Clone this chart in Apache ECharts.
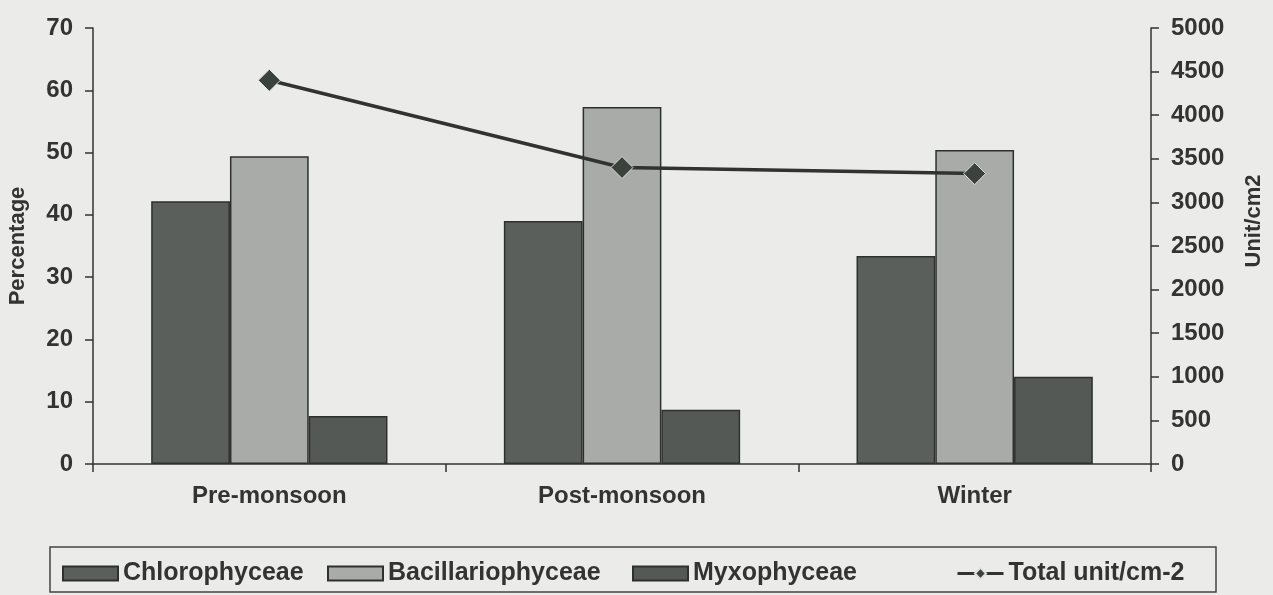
<!DOCTYPE html>
<html>
<head>
<meta charset="utf-8">
<script src="https://cdn.jsdelivr.net/npm/echarts@6/dist/echarts.min.js"></script>
<style>
  html, body { margin: 0; padding: 0; background: #ebebea; }
  #chart { width: 1273px; height: 595px; }
</style>
</head>
<body>
<div id="chart"></div>
<script>
var seasons = ['Pre-monsoon', 'Post-monsoon', 'Winter'];
var chlorophyceae = [42.2, 39.0, 33.4];
var bacillariophyceae = [49.4, 57.3, 50.4];
var myxophyceae = [7.7, 8.7, 14.0];
var totalUnits = [4400, 3400, 3330];

var chartDom = document.getElementById('chart');
var myChart = echarts.init(chartDom);

var axisText = { color: '#333', fontFamily: 'Liberation Sans', fontWeight: 'bold', fontSize: 24 };
var legendText = { color: '#333', fontWeight: 'bold', fontSize: 25 };

function legendAt(name, left, w) {
    var lg = {
        data: [name],
        left: left, top: 556,
        itemWidth: w, itemHeight: 14,
        textStyle: legendText
    };
    if (name === 'Total unit/cm-2') {
        lg.lineStyle = { width: 3 };
    } else {
        lg.icon = 'rect';
    }
    return lg;
}

var option = {
    backgroundColor: '#ebebea',
    textStyle: { fontFamily: 'Liberation Sans' },
    grid: { left: 93, right: 122, top: 28, bottom: 131, containLabel: false, outerBoundsMode: 'none' },
    legend: [
        legendAt('Chlorophyceae', 57, 55),
        legendAt('Bacillariophyceae', 322, 55),
        legendAt('Myxophyceae', 627, 55),
        legendAt('Total unit/cm-2', 951, 46)
    ],
    graphic: [
        {
            type: 'rect',
            shape: { x: 50, y: 547, width: 1166, height: 45 },
            style: { fill: 'none', stroke: '#444', lineWidth: 1.5 },
            z: 0
        }
    ],
    xAxis: {
        type: 'category',
        data: seasons,
        axisLine: { lineStyle: { color: '#333', width: 1.5 } },
        axisTick: { show: true, length: 8, lineStyle: { color: '#333', width: 1.5 } },
        axisLabel: Object.assign({}, axisText, { margin: 20 })
    },
    yAxis: [
        {
            type: 'value',
            min: 0, max: 70, interval: 10,
            name: 'Percentage',
            nameLocation: 'middle',
            nameGap: 64,
            nameTextStyle: { color: '#333', fontWeight: 'bold', fontSize: 22 },
            axisLine: { show: true, lineStyle: { color: '#333', width: 1.5 } },
            axisTick: { show: true, length: 8, lineStyle: { color: '#333', width: 1.5 } },
            axisLabel: Object.assign({}, axisText, { margin: 20 }),
            splitLine: { show: false }
        },
        {
            type: 'value',
            min: 0, max: 5000, interval: 500,
            name: 'Unit/cm2',
            nameLocation: 'middle',
            nameGap: 92,
            nameTextStyle: { color: '#333', fontWeight: 'bold', fontSize: 22, padding: [0, 0, 0, 50] },
            axisLine: { show: true, lineStyle: { color: '#333', width: 1.5 } },
            axisTick: { show: true, length: 8, lineStyle: { color: '#333', width: 1.5 } },
            axisLabel: Object.assign({}, axisText, {
                margin: 20,
                formatter: function (v) { return String(v); }
            }),
            splitLine: { show: false }
        }
    ],
    series: [
        {
            name: 'Chlorophyceae',
            type: 'bar',
            data: chlorophyceae,
            barGap: '0%',
            barCategoryGap: '33%',
            itemStyle: { color: '#5b5f5b', borderColor: '#2e302e', borderWidth: 1.5 }
        },
        {
            name: 'Bacillariophyceae',
            type: 'bar',
            data: bacillariophyceae,
            itemStyle: { color: '#a9aba8', borderColor: '#2e302e', borderWidth: 1.5 }
        },
        {
            name: 'Myxophyceae',
            type: 'bar',
            data: myxophyceae,
            itemStyle: { color: '#555955', borderColor: '#2e302e', borderWidth: 1.5 }
        },
        {
            name: 'Total unit/cm-2',
            type: 'line',
            yAxisIndex: 1,
            data: totalUnits,
            symbol: 'diamond',
            symbolSize: 22,
            lineStyle: { color: '#303330', width: 3.5 },
            itemStyle: { color: '#3b423b', borderColor: '#e0e0e0', borderWidth: 1 },
            z: 5
        }
    ]
};

myChart.setOption(option);
</script>
</body>
</html>
